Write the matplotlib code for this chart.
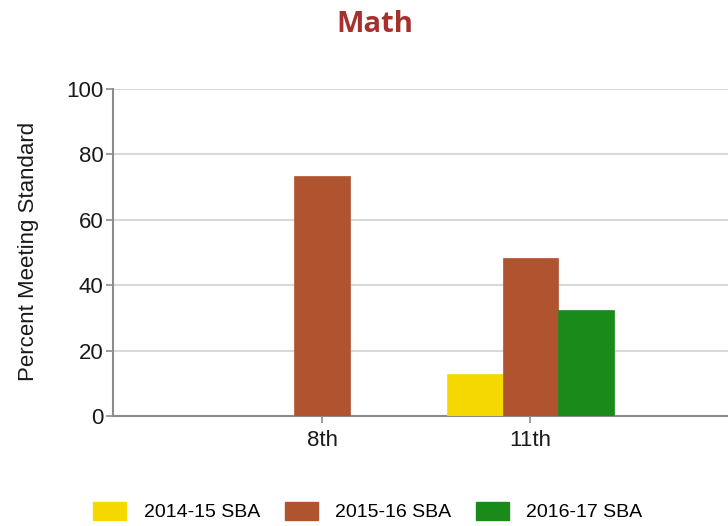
import matplotlib.pyplot as plt
import numpy as np
from matplotlib.patches import Patch

grades = ["8th", "11th"]
series = ["2014-15 SBA", "2015-16 SBA", "2016-17 SBA"]
sba_2014_15 = [np.nan, 12.8]
sba_2015_16 = [73.3, 48.2]
sba_2016_17 = [np.nan, 32.4]
colors = ["#F5D800", "#B05430", "#1A8A1A"]

SANS = ["Liberation Sans", "DejaVu Sans"]

fig = plt.figure(figsize=(7.28, 5.26), dpi=100)
ax = fig.add_axes([113 / 728, 110 / 526, 1 - 113 / 728, 327 / 526])

x = np.arange(len(grades))
width = 0.267
for i, (vals, color) in enumerate(zip([sba_2014_15, sba_2015_16, sba_2016_17], colors)):
    ax.bar(x + (i - 1) * width, vals, width, color=color, edgecolor=color, linewidth=0.5, zorder=3)

ax.set_xlim(-1.005, 1.95)
ax.set_ylim(0, 100)
ax.set_yticks([0, 20, 40, 60, 80, 100])
ax.set_xticks(x)
ax.set_xticklabels(grades)
ax.grid(axis="y", color="#D9D9D9", linewidth=1.5, zorder=0)
for side in ("top", "right"):
    ax.spines[side].set_visible(False)
for side in ("left", "bottom"):
    ax.spines[side].set_color("#8C8C8C")
    ax.spines[side].set_linewidth(1.5)
ax.tick_params(axis="both", color="#8C8C8C", width=1.2, length=5, labelcolor="#1A1A1A")
ax.tick_params(axis="y", pad=2)
ax.tick_params(axis="x", pad=5)
for lab in ax.get_xticklabels() + ax.get_yticklabels():
    lab.set_family(SANS)
    lab.set_fontsize(16)

fig.text(29 / 728, 1 - 251.5 / 526, "Percent Meeting Standard", rotation=90,
         ha="center", va="center", fontsize=16, family=SANS, color="#1A1A1A")
fig.text(375 / 728, 1 - 25 / 526, "Math", ha="center", va="center", fontsize=21,
         fontweight="bold", family=["Open Sans", "DejaVu Sans"], color="#A5302E")

handles = [Patch(facecolor=c, edgecolor=c) for c in colors]
fig.legend(handles, series, loc="center", bbox_to_anchor=(368 / 728, 14.5 / 526), ncol=3,
           frameon=False, prop={"family": SANS, "size": 14}, handlelength=1.7,
           handleheight=1.03, handletextpad=0.88, columnspacing=1.29)

fig.savefig("out.png", dpi=100)
